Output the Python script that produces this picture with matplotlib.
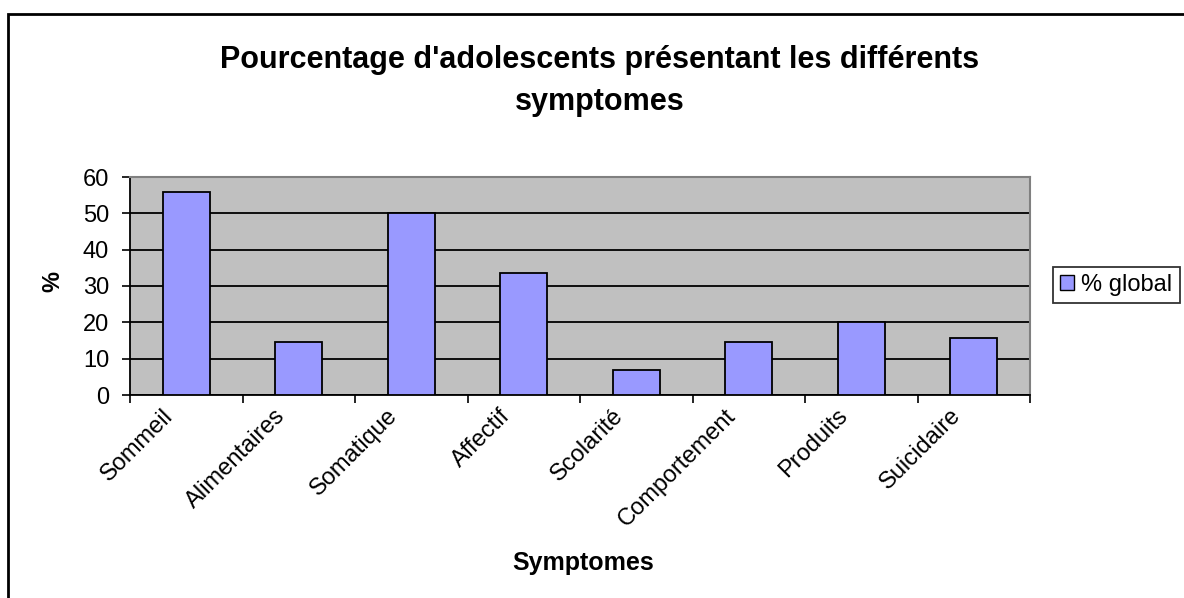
import matplotlib.pyplot as plt
from matplotlib.patches import Rectangle
from matplotlib.transforms import ScaledTranslation

plt.rcParams['font.family'] = ['Liberation Sans', 'DejaVu Sans']

symptomes = ['Sommeil', 'Alimentaires', 'Somatique', 'Affectif',
             'Scolarité', 'Comportement', 'Produits', 'Suicidaire']
pct_global = [56, 14.5, 50, 33.7, 6.8, 14.5, 20, 15.7]
y_ticks = [0, 10, 20, 30, 40, 50, 60]

W, H = 1184, 598
fig = plt.figure(figsize=(W / 100, H / 100), dpi=100)

# outer chart frame (runs off the right and bottom edges)
fig.patches.append(Rectangle((8 / W, -0.1), 1.2, 1 - 14 / H + 0.1,
                             transform=fig.transFigure, fill=False,
                             edgecolor='black', linewidth=2))

ax = fig.add_axes([130 / W, 1 - 395 / H, 900 / W, 218 / H])
ax.set_facecolor('#C0C0C0')

x = range(len(symptomes))
ax.bar(x, pct_global, width=0.42, color='#9999FF', edgecolor='black',
       linewidth=1.3, zorder=3, label='% global')

ax.set_xlim(-0.5, len(symptomes) - 0.5)
ax.set_ylim(0, 60)
ax.set_yticks(y_ticks)
ax.yaxis.grid(True, color='black', linewidth=1.3, zorder=1)
ax.set_axisbelow(True)

ax.set_xticks(list(x))
ax.set_xticklabels(symptomes, rotation=45, ha='right', va='top')
ax.set_xticks([i - 0.5 for i in range(len(symptomes) + 1)], minor=True)
ax.tick_params(axis='x', which='major', length=0, pad=7, labelsize=17)
ax.tick_params(axis='x', which='minor', length=6, width=1.2, direction='out')
ax.tick_params(axis='y', length=6, width=1.2, direction='out', labelsize=17, pad=9)
shift = ScaledTranslation(-9 / 100, 0, fig.dpi_scale_trans)
for lbl in ax.get_xticklabels():
    lbl.set_transform(lbl.get_transform() + shift)

for side in ['top', 'right']:
    ax.spines[side].set_color('#808080')
    ax.spines[side].set_linewidth(1.5)
for side in ['left', 'bottom']:
    ax.spines[side].set_color('black')
    ax.spines[side].set_linewidth(1.3)

fig.text(600 / W, 1 - 81 / H,
         "Pourcentage d'adolescents présentant les différents\nsymptomes",
         ha='center', va='center', fontsize=22, fontweight='bold',
         linespacing=1.5)
fig.text(583 / W, 1 - 563 / H, 'Symptomes', ha='center', va='center',
         fontsize=18, fontweight='bold')
fig.text(53 / W, 1 - 281 / H, '%', ha='center', va='center', rotation=90,
         fontsize=17, fontweight='bold')

handle = Rectangle((0, 0), 1, 1, facecolor='#9999FF', edgecolor='black')
leg = fig.legend([handle], ['% global'], loc='center left',
                 bbox_to_anchor=(1053 / W, 1 - 285 / H), fontsize=17,
                 frameon=True, fancybox=False, edgecolor='black',
                 handlelength=0.6, handleheight=0.6, handletextpad=0.3,
                 borderpad=0.3, borderaxespad=0)
leg.get_frame().set_linewidth(1.3)

fig.savefig('out.png', dpi=100)
